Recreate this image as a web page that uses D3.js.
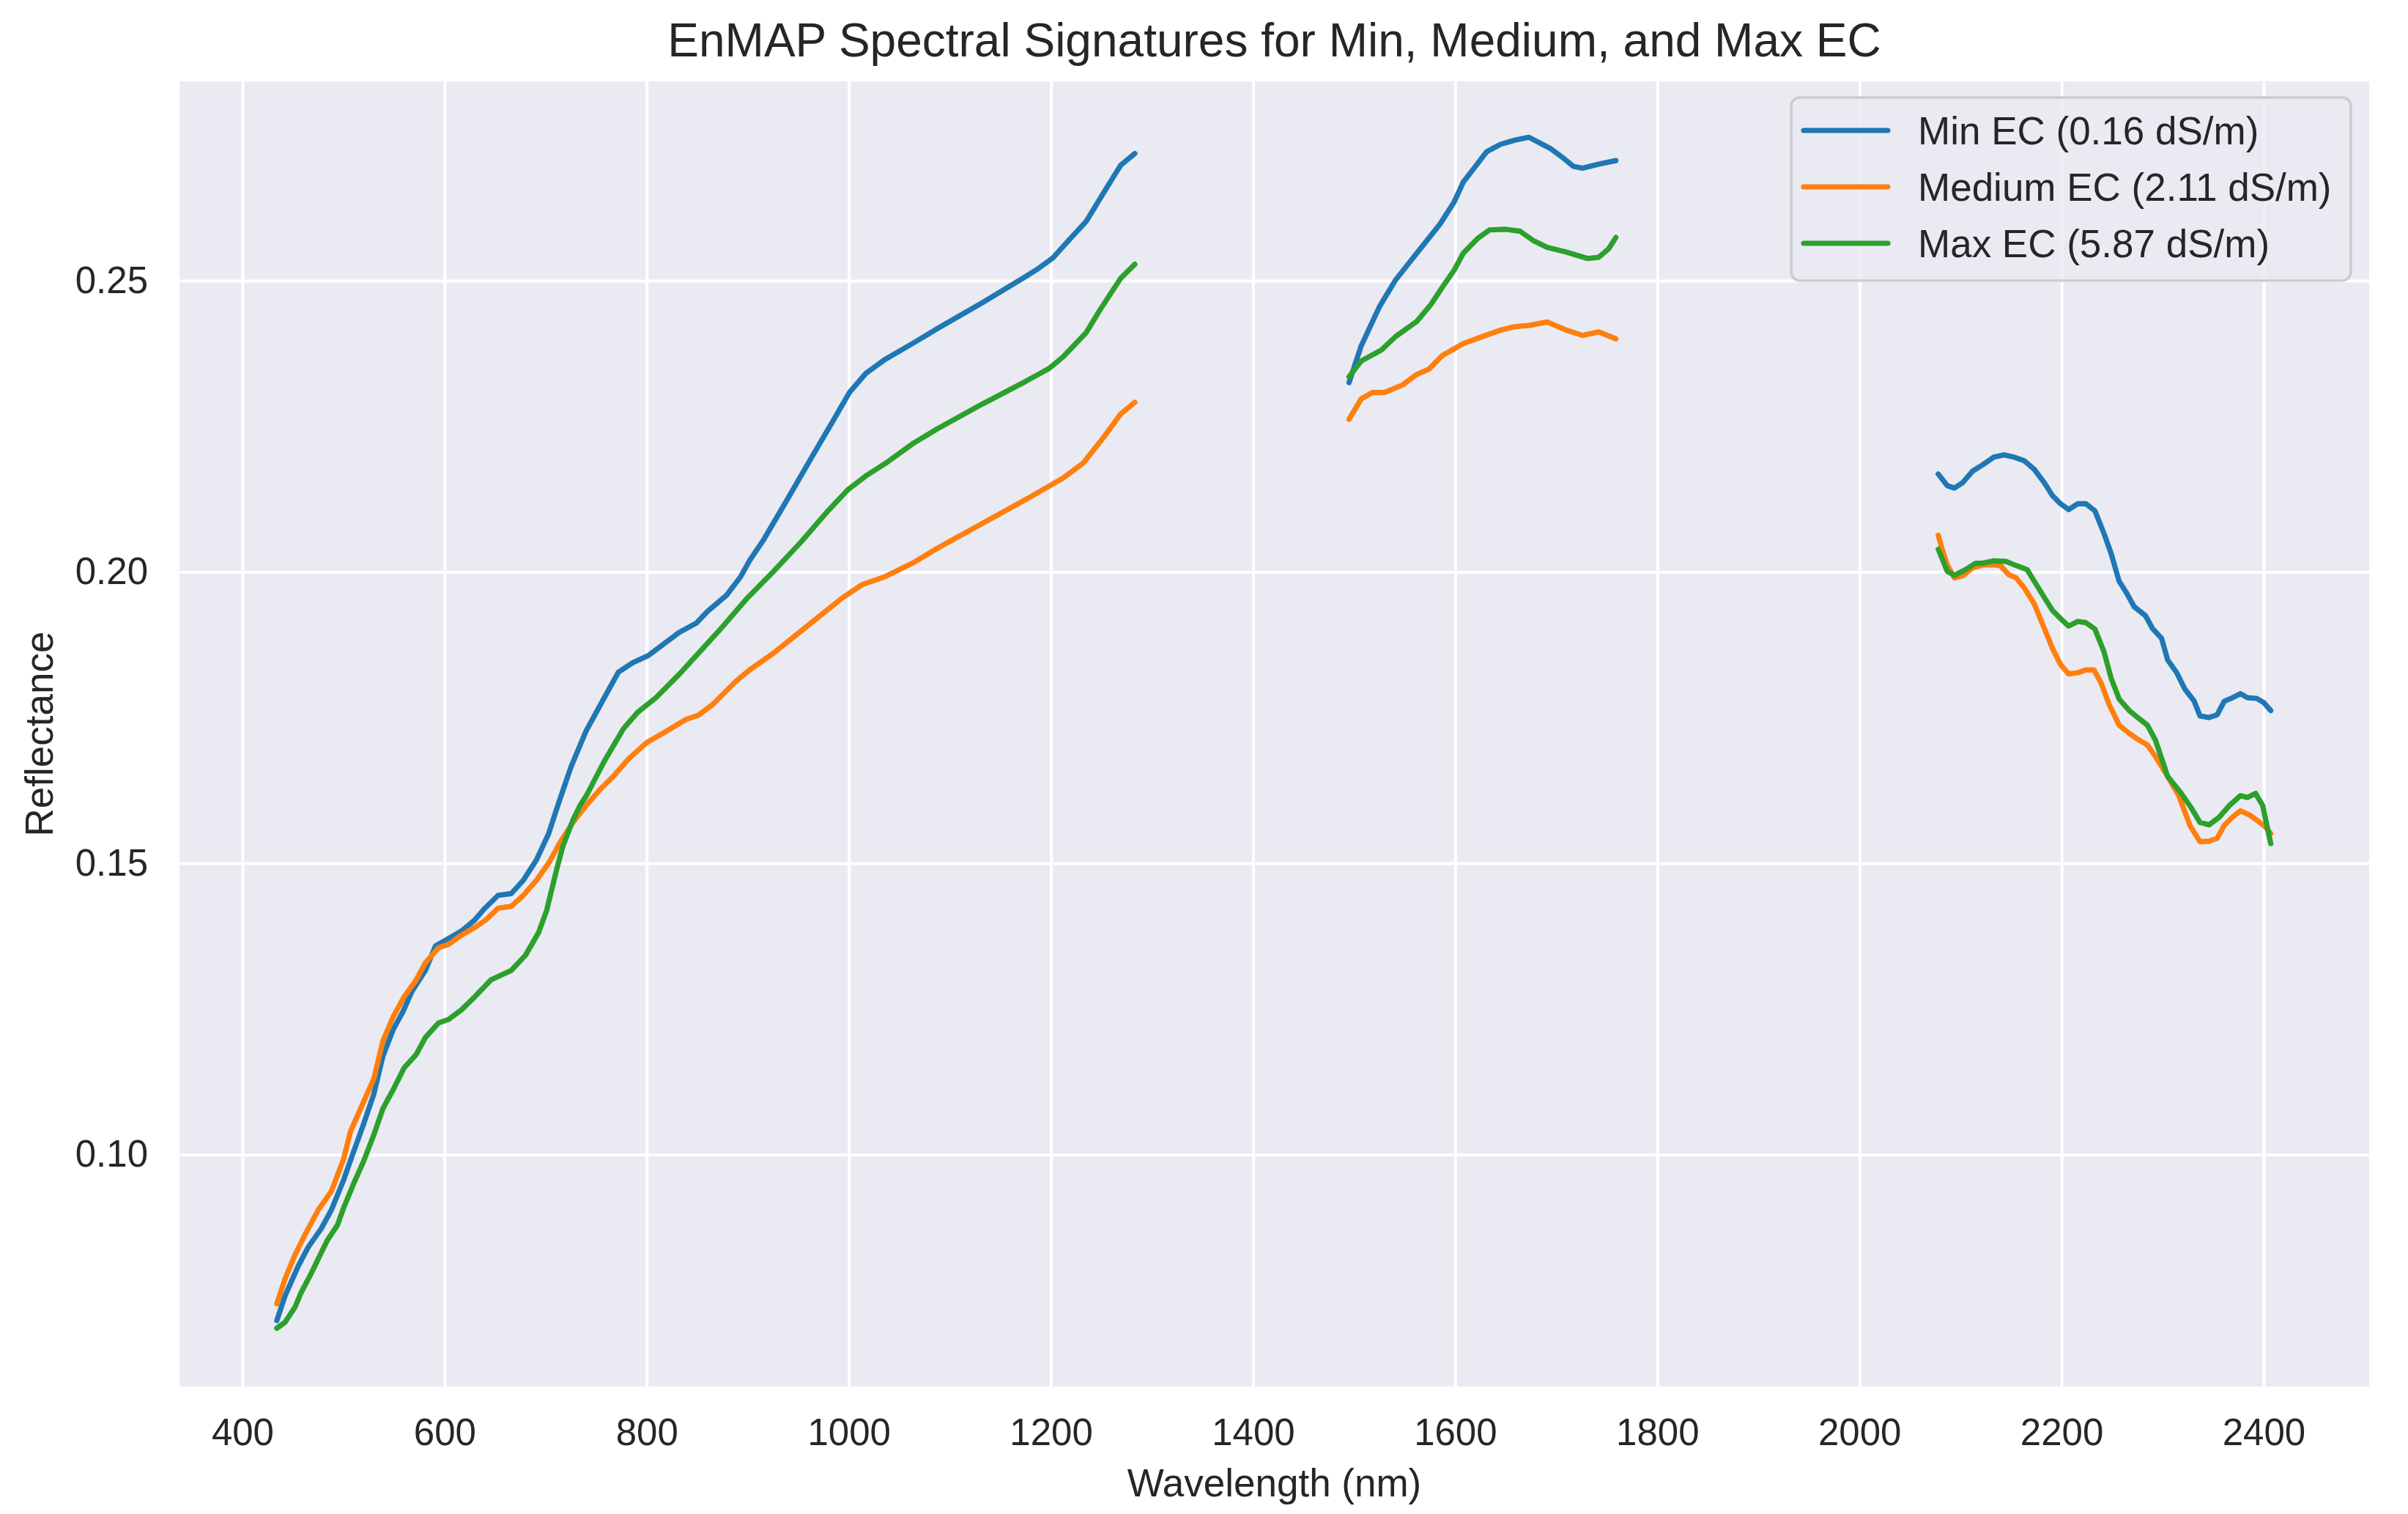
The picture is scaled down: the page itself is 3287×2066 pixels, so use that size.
<!DOCTYPE html>
<html>
<head>
<meta charset="utf-8">
<script src="https://cdn.jsdelivr.net/npm/d3@7"></script>
<style>
    body { margin: 0; background: #ffffff; }
    text { font-family: Arial, "Liberation Sans", sans-serif; fill: #262626; }
</style>
</head>
<body>
<div id="chart"><svg></svg></div>
<script>
// wavelength (nm), reflectance; null marks the removed water bands
var minEC = [
    [434,0.0715],[442,0.0757],[455,0.0808],[465,0.0841],[478,0.0873],[488,0.0905],[500,0.0956],[510,0.1005],
    [520,0.1053],[530,0.1104],[539,0.1169],[549,0.1214],[559,0.1246],[568,0.1281],[581,0.1316],[591,0.1358],
    [604,0.1371],[617,0.1384],[630,0.1403],[640,0.1423],[653,0.1445],[666,0.1448],[678,0.1471],[691,0.1506],
    [703,0.1551],[712,0.1599],[725,0.1665],[740,0.1727],[758,0.1784],[772,0.1828],[786,0.1844],[802,0.1857],
    [832,0.1896],[849,0.1912],[860,0.1932],[879,0.1960],[893,0.1992],[902,0.2020],[916,0.2056],[939,0.2124],
    [962,0.2193],[985,0.2261],[1001,0.2309],[1017,0.2341],[1036,0.2365],[1064,0.2393],[1087,0.2417],[1133,0.2463],
    [1175,0.2507],[1186,0.2519],[1202,0.2539],[1216,0.2566],[1235,0.2602],[1249,0.2642],[1269,0.2698],[1283,0.2718],
    [1390,null],
    [1495,0.2325],[1507,0.2388],[1525,0.2455],[1541,0.2501],[1562,0.2547],[1585,0.2597],[1599,0.2635],[1608,0.2669],
    [1620,0.2696],[1631,0.2721],[1645,0.2734],[1659,0.2741],[1673,0.2746],[1694,0.2727],[1705,0.2713],[1717,0.2696],
    [1726,0.2693],[1742,0.2700],[1759,0.2706],
    [1920,null],
    [2078,0.2168],[2087,0.2148],[2094,0.2144],[2102,0.2153],[2112,0.2173],[2122,0.2184],[2133,0.2197],[2143,0.2201],
    [2153,0.2197],[2163,0.2191],[2173,0.2176],[2183,0.2153],[2191,0.2131],[2199,0.2117],[2207,0.2107],[2216,0.2117],
    [2224,0.2117],[2233,0.2105],[2242,0.2066],[2249,0.2032],[2257,0.1984],[2265,0.1962],[2272,0.1940],[2283,0.1925],
    [2290,0.1903],[2299,0.1886],[2305,0.1849],[2314,0.1827],[2322,0.1799],[2331,0.1779],[2337,0.1753],[2346,0.1750],
    [2354,0.1755],[2361,0.1778],[2369,0.1784],[2377,0.1791],[2384,0.1784],[2393,0.1783],[2400,0.1776],[2407,0.1762]
];

var mediumEC = [
    [434,0.0744],[442,0.0786],[452,0.0828],[462,0.0863],[475,0.0905],[488,0.0937],[500,0.0992],[507,0.1040],
    [520,0.1091],[530,0.1130],[539,0.1195],[549,0.1236],[560,0.1271],[572,0.1300],[581,0.1329],[594,0.1355],
    [604,0.1361],[617,0.1377],[630,0.1390],[641,0.1403],[653,0.1423],[666,0.1426],[678,0.1445],[691,0.1471],
    [704,0.1503],[714,0.1535],[727,0.1570],[740,0.1599],[754,0.1627],[768,0.1651],[782,0.1679],[800,0.1707],
    [816,0.1723],[839,0.1747],[851,0.1754],[865,0.1772],[888,0.1812],[902,0.1832],[925,0.1860],[948,0.1892],
    [971,0.1924],[994,0.1956],[1013,0.1978],[1036,0.1992],[1064,0.2016],[1087,0.2040],[1133,0.2084],[1179,0.2128],
    [1212,0.2161],[1232,0.2187],[1253,0.2233],[1269,0.2271],[1283,0.2291],
    [1390,null],
    [1495,0.2262],[1507,0.2297],[1518,0.2308],[1530,0.2308],[1548,0.2321],[1562,0.2339],[1574,0.2348],[1587,0.2371],
    [1608,0.2392],[1627,0.2404],[1645,0.2415],[1659,0.2421],[1673,0.2423],[1691,0.2429],[1710,0.2415],[1726,0.2406],
    [1742,0.2412],[1759,0.2400],
    [1920,null],
    [2078,0.2063],[2082,0.2038],[2087,0.2012],[2094,0.1990],[2102,0.1993],[2112,0.2007],[2122,0.2012],[2135,0.2012],
    [2140,0.2010],[2148,0.1995],[2155,0.1990],[2163,0.1973],[2173,0.1945],[2183,0.1903],[2191,0.1869],[2199,0.1841],
    [2207,0.1825],[2216,0.1827],[2224,0.1832],[2232,0.1832],[2239,0.1810],[2247,0.1773],[2257,0.1737],[2267,0.1723],
    [2277,0.1711],[2285,0.1703],[2293,0.1683],[2303,0.1655],[2316,0.1616],[2327,0.1565],[2337,0.1537],[2346,0.1538],
    [2354,0.1543],[2361,0.1565],[2369,0.1579],[2377,0.1590],[2387,0.1582],[2394,0.1573],[2402,0.1562],[2407,0.1551]
];

var maxEC = [
    [434,0.0702],[442,0.0712],[452,0.0738],[458,0.0763],[468,0.0796],[475,0.0821],[484,0.0853],[494,0.0879],
    [500,0.0908],[510,0.0950],[520,0.0989],[530,0.1034],[539,0.1079],[549,0.1111],[560,0.1149],[572,0.1172],
    [581,0.1201],[594,0.1226],[604,0.1232],[617,0.1249],[630,0.1271],[646,0.1300],[666,0.1316],[680,0.1342],
    [693,0.1381],[701,0.1419],[711,0.1490],[717,0.1529],[727,0.1574],[734,0.1599],[740,0.1615],[758,0.1675],
    [777,0.1731],[791,0.1759],[809,0.1784],[832,0.1824],[851,0.1860],[874,0.1904],[900,0.1956],[925,0.2000],
    [953,0.2052],[980,0.2106],[999,0.2141],[1017,0.2165],[1036,0.2186],[1064,0.2221],[1087,0.2245],[1133,0.2289],
    [1175,0.2327],[1198,0.2349],[1212,0.2369],[1235,0.2411],[1249,0.2451],[1269,0.2504],[1283,0.2528],
    [1390,null],
    [1495,0.2335],[1507,0.2362],[1527,0.2381],[1541,0.2404],[1562,0.2430],[1576,0.2459],[1587,0.2488],[1599,0.2518],
    [1608,0.2547],[1622,0.2572],[1634,0.2587],[1650,0.2588],[1664,0.2585],[1678,0.2568],[1691,0.2557],[1710,0.2549],
    [1731,0.2538],[1742,0.2540],[1752,0.2555],[1759,0.2574],
    [1920,null],
    [2078,0.2039],[2087,0.2001],[2094,0.1994],[2105,0.2004],[2115,0.2015],[2122,0.2015],[2133,0.2019],[2145,0.2018],
    [2155,0.2011],[2166,0.2004],[2173,0.1984],[2183,0.1956],[2191,0.1934],[2199,0.1920],[2207,0.1907],[2216,0.1915],
    [2224,0.1913],[2233,0.1902],[2242,0.1863],[2249,0.1818],[2257,0.1782],[2267,0.1762],[2277,0.1748],[2285,0.1737],
    [2293,0.1711],[2299,0.1680],[2305,0.1649],[2318,0.1621],[2328,0.1596],[2337,0.1570],[2346,0.1566],[2356,0.1579],
    [2366,0.1599],[2377,0.1616],[2384,0.1613],[2392,0.1620],[2399,0.1599],[2407,0.1534]
];

var seriesNames = ["Min EC (0.16 dS/m)", "Medium EC (2.11 dS/m)", "Max EC (5.87 dS/m)"];
var seriesColors = ["#1f77b4", "#ff7f0e", "#2ca02c"];
var xTicks = [400, 600, 800, 1000, 1200, 1400, 1600, 1800, 2000, 2200, 2400];
var yTicks = [0.10, 0.15, 0.20, 0.25];

var width = 3287, height = 2066;
var margin = {top: 111, right: 53, bottom: 174, left: 245};
var plotW = width - margin.left - margin.right;
var plotH = height - margin.top - margin.bottom;

var svg = d3.select("#chart svg").attr("width", width).attr("height", height);

var x = d3.scaleLinear().domain([337.7, 2504.4]).range([0, plotW]);
var y = d3.scaleLinear().domain([0.0602, 0.2842]).range([plotH, 0]);

var g = svg.append("g").attr("transform", "translate(" + margin.left + "," + margin.top + ")");

g.append("rect")
    .attr("width", plotW)
    .attr("height", plotH)
    .style("fill", "#eaeaf2");

// grid from the axes, labels drawn by the axes too
var xAxis = g.append("g")
    .attr("transform", "translate(0," + plotH + ")")
    .call(d3.axisBottom(x).tickValues(xTicks).tickSize(-plotH).tickPadding(80).tickFormat(d3.format("d")));

var yAxis = g.append("g")
    .call(d3.axisLeft(y).tickValues(yTicks).tickSize(-plotW).tickPadding(43).tickFormat(d3.format(".2f")));

[xAxis, yAxis].forEach(function(ax) {
    ax.select(".domain").remove();
    ax.selectAll(".tick line").style("stroke", "#ffffff").style("stroke-width", 4);
    ax.selectAll(".tick text")
        .style("font-size", "51px")
        .style("fill", "#262626")
        .style("font-family", "Arial, 'Liberation Sans', sans-serif");
});
xAxis.selectAll(".tick text").attr("dy", null).attr("y", 80).style("dominant-baseline", "alphabetic");

var line = d3.line()
    .defined(function(d) { return d[1] !== null; })
    .x(function(d) { return x(d[0]); })
    .y(function(d) { return y(d[1]); });

var series = [minEC, mediumEC, maxEC];

g.append("g")
    .selectAll("path")
    .data(series)
    .enter().append("path")
    .attr("d", line)
    .style("fill", "none")
    .style("stroke", function(d, i) { return seriesColors[i]; })
    .style("stroke-width", 7.2)
    .style("stroke-linejoin", "round")
    .style("stroke-linecap", "round");

// title and axis labels
svg.append("text")
    .attr("x", margin.left + plotW / 2)
    .attr("y", 77)
    .attr("text-anchor", "middle")
    .style("font-size", "64px")
    .text("EnMAP Spectral Signatures for Min, Medium, and Max EC");

svg.append("text")
    .attr("x", margin.left + plotW / 2)
    .attr("y", 2042)
    .attr("text-anchor", "middle")
    .style("font-size", "53px")
    .text("Wavelength (nm)");

svg.append("text")
    .attr("transform", "translate(72," + (margin.top + plotH / 2) + ") rotate(-90)")
    .attr("text-anchor", "middle")
    .style("font-size", "53px")
    .text("Reflectance");

// legend
var legend = svg.append("g").attr("transform", "translate(2445,133)");

legend.append("rect")
    .attr("width", 764)
    .attr("height", 250)
    .attr("rx", 12)
    .style("fill", "#eaeaf2")
    .style("fill-opacity", 0.8)
    .style("stroke", "#cccccc")
    .style("stroke-width", 3.5);

var item = legend.selectAll(".item")
    .data(seriesNames)
    .enter().append("g")
    .attr("class", "item")
    .attr("transform", function(d, i) { return "translate(0," + (45 + i * 77) + ")"; });

item.append("line")
    .attr("x1", 17).attr("x2", 132)
    .style("stroke", function(d, i) { return seriesColors[i]; })
    .style("stroke-width", 7.2)
    .style("stroke-linecap", "round");

item.append("text")
    .attr("x", 173)
    .attr("y", 19)
    .style("font-size", "53px")
    .text(function(d) { return d; });
</script>
</body>
</html>
